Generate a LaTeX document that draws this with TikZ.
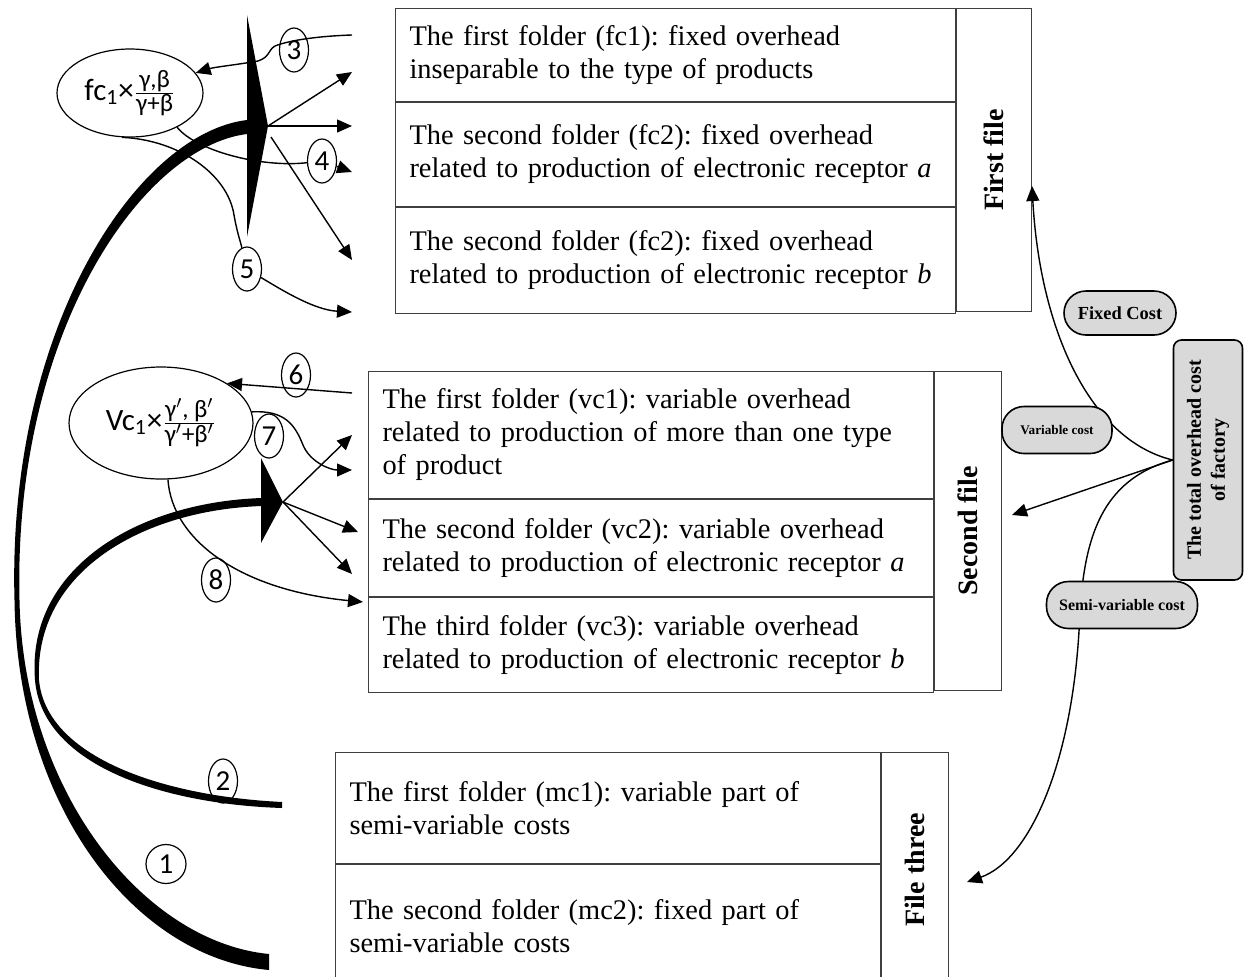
\documentclass[tikz,border=0pt]{standalone}
\usepackage{fontspec}
\setmainfont{Liberation Serif}
\newfontfamily\cfont{Carlito}
\usetikzlibrary{arrows.meta,calc,shapes.geometric}
\definecolor{tagfill}{HTML}{D9D9D9}
\definecolor{boxstroke}{HTML}{3F3F3F}
\newcommand{\fracpart}[1]{\hbox{\cfont\fontsize{12.5}{13}\selectfont #1}}
\newcommand{\prm}{$'$}
\frenchspacing
\tikzset{
  folder/.style={
    rectangle,
    draw=boxstroke,
    line width=0.5pt,
    anchor=north west,
    align=left,
    inner xsep=7pt,
    inner ysep=0pt,
    font=\fontsize{14.2}{16.5}\selectfont
  },
  filelabel/.style={
    rectangle,
    draw=boxstroke,
    line width=0.5pt,
    anchor=north west,
    inner sep=0pt,
    font=\fontsize{14}{16}\selectfont\bfseries
  },
  formula/.style={
    ellipse,
    draw,
    line width=0.6pt,
    inner sep=0pt,
    font=\cfont\fontsize{15.5}{15.5}\selectfont
  },
  numtag/.style={
    ellipse,
    draw,
    line width=0.6pt,
    inner sep=0pt,
    minimum width=14.5pt,
    minimum height=22pt,
    font=\cfont\fontsize{14.5}{14.5}\selectfont
  },
  costtag/.style={
    rectangle,
    rounded corners=11pt,
    draw,
    fill=tagfill,
    line width=0.8pt,
    inner sep=0pt
  },
  flow/.style={
    -{Triangle[length=7.5pt,width=6.5pt]},
    line width=0.7pt
  },
  link/.style={line width=0.7pt}
}

\begin{document}
\begin{tikzpicture}[x=0.5pt,y=-0.5pt]
  \useasboundingbox (0,0) rectangle (1244,976);

  % First file: fixed overhead folders.
  \node[folder,text width=266pt,minimum height=46.5pt] (fc1) at (395,8)
    {The first folder (fc1): fixed overhead\\inseparable to the type of products};
  \node[folder,text width=266pt,minimum height=52pt] (fc2a) at (fc1.south west)
    {The second folder (fc2): fixed overhead\\related to production of electronic receptor \textit{a}};
  \node[folder,text width=266pt,minimum height=53pt] (fc2b) at (fc2a.south west)
    {The second folder (fc2): fixed overhead\\related to production of electronic receptor \textit{b}};
  \node[filelabel,minimum width=37.5pt,minimum height=151.5pt] (file1) at (fc1.north east)
    {\rotatebox{90}{First file}};

  % Second file: variable overhead folders.
  \node[folder,text width=268.5pt,minimum height=63.5pt] (vc1) at (368,371)
    {The first folder (vc1): variable overhead\\related to production of more than one type\\of product};
  \node[folder,text width=268.5pt,minimum height=48.5pt] (vc2) at (vc1.south west)
    {The second folder (vc2): variable overhead\\related to production of electronic receptor \textit{a}};
  \node[folder,text width=268.5pt,minimum height=47.5pt] (vc3) at (vc2.south west)
    {The third folder (vc3): variable overhead\\related to production of electronic receptor \textit{b}};
  \node[filelabel,minimum width=33.5pt,minimum height=159.5pt] (file2) at (vc1.north east)
    {\rotatebox{90}{Second file}};

  % File three: semi-variable folders.
  \node[folder,text width=258.5pt,minimum height=55.5pt] (mc1) at (335,752)
    {The first folder (mc1): variable part of\\semi-variable costs};
  \node[folder,text width=258.5pt,minimum height=62pt] (mc2) at (mc1.south west)
    {The second folder (mc2): fixed part of\\semi-variable costs};
  \node[filelabel,minimum width=33.5pt,minimum height=117.5pt] (file3) at (mc1.north east)
    {\rotatebox{90}{File three}};

  % Allocation formulas.
  \node[formula,minimum width=73pt,minimum height=44pt] (ell1) at (130,93)
    {fc\textsubscript{1}×$\frac{\fracpart{γ,β}}{\fracpart{γ+β}}$};
  \node[formula,minimum width=92pt,minimum height=56pt] (ell2) at (161,423)
    {Vc\textsubscript{1}×$\frac{\fracpart{γ\prm, β\prm}}{\fracpart{γ\prm+β\prm}}$};

  % Step numbers.
  \node[numtag,minimum width=20pt,minimum height=19.5pt] (n1) at (166,864) {1};
  \node[numtag] (n2) at (223,781) {2};
  \node[numtag] (n3) at (294,50) {3};
  \node[numtag] (n4) at (322,161) {4};
  \node[numtag] (n5) at (247,269) {5};
  \node[numtag] (n6) at (296,375) {6};
  \node[numtag] (n7) at (269,436) {7};
  \node[numtag] (n8) at (216,580) {8};

  \coordinate (tipA) at (268,126);
  \coordinate (tipB) at (283,502);
  \coordinate (s3) at (352,35);
  \coordinate (a1) at (352,72);
  \coordinate (a2) at (352,126);
  \coordinate (a3) at (352,172);
  \coordinate (a4) at (352,260);
  \coordinate (a5) at (352,312);
  \coordinate (s6) at (352,393);
  \coordinate (b1) at (352,435);
  \coordinate (b2) at (352,470);
  \coordinate (b3) at (358,532);
  \coordinate (b4) at (352,574);
  \coordinate (b5) at (363,602);

  % Thick sweep 1 into the first file.
  \fill (247,120) .. controls (138,133) and (7,327) .. (14.5,600)
    .. controls (17,808) and (136,958) .. (269,970)
    -- (269,954) .. controls (144,942) and (23,792) .. (19.5,600)
    .. controls (13,333) and (142,147) .. (247,134) -- cycle;
  \fill (247,15) -- (tipA) -- (247,237) -- cycle;

  % Sweep 2 into the second file.
  \fill (262,498) .. controls (138,502) and (26,568) .. (35,680)
    .. controls (42,764) and (160,804) .. (282,808)
    -- (282,802) .. controls (160,796) and (46,756) .. (39,680)
    .. controls (34,572) and (142,510) .. (262,506) -- cycle;
  \fill (261,458) -- (tipB) -- (261,543) -- cycle;

  % Fan-out to the folders.
  \draw[flow] (tipA) -- (a1);
  \draw[flow] (tipA) -- (a2);
  \draw[flow] ([shift={(3,11)}]tipA) -- (a4);
  \draw[flow] (tipB) -- (b1);
  \draw[flow] (tipB) -- (b3);
  \draw[flow] (tipB) -- (b4);

  % Fixed cost allocation.
  \draw[flow] (s3) .. controls (320,36) and (290,40) .. (275,46)
    .. controls (268,50) and (270,57) .. (258,61)
    .. controls (235,65) and (215,67) .. (ell1);
  \draw[link] (ell1.-36) .. controls (195,150) and (260,168) .. (n4);
  \draw[flow] (n4) -- (a3);
  \draw[link] (ell1.-100) .. controls (180,140) and (228,175) .. (234,215)
    .. controls (237,232) and (240,240) .. (n5);
  \draw[flow] (n5) .. controls (285,292) and (315,310) .. (a5);

  % Variable cost allocation.
  \draw[flow] (s6) -- (ell2.31);
  \draw[flow] (ell2.7) .. controls (285,410) and (295,425) .. (303,445)
    .. controls (310,462) and (330,470) .. (b2);
  \draw[flow] (ell2.-83) .. controls (172,540) and (240,590) .. (b5);

  % Total overhead split.
  \node[costtag,rounded corners=4pt,minimum width=34.5pt,minimum height=120pt,
    font=\fontsize{10}{12}\selectfont\bfseries] (total) at (1208,460)
    {\rotatebox{90}{\begin{tabular}{@{}c@{}}The total overhead cost\\of factory\end{tabular}}};
  \draw[flow] (total.west) .. controls (1090,440) and (1040,330)
    .. ([yshift=-13pt]file1.east);
  \draw[flow] (total.west) -- ([xshift=5pt,yshift=8pt]file2.east);
  \draw[flow] (total.west) .. controls (1100,480) and (1085,540) .. (1080,610)
    .. controls (1075,760) and (1030,860) .. ([xshift=9pt,yshift=-6pt]file3.east);

  \node[costtag,minimum width=56pt,minimum height=22pt,
    font=\fontsize{9.2}{10}\selectfont\bfseries] (fixed) at (1120,313) {Fixed Cost};
  \node[costtag,minimum width=55pt,minimum height=23.5pt,
    font=\fontsize{6.6}{8}\selectfont\bfseries] (variable) at (1057,430) {Variable cost};
  \node[costtag,minimum width=75.5pt,minimum height=23.5pt,
    font=\fontsize{8}{9}\selectfont\bfseries] (semi) at (1122,605) {Semi-variable cost};
\end{tikzpicture}
\end{document}
